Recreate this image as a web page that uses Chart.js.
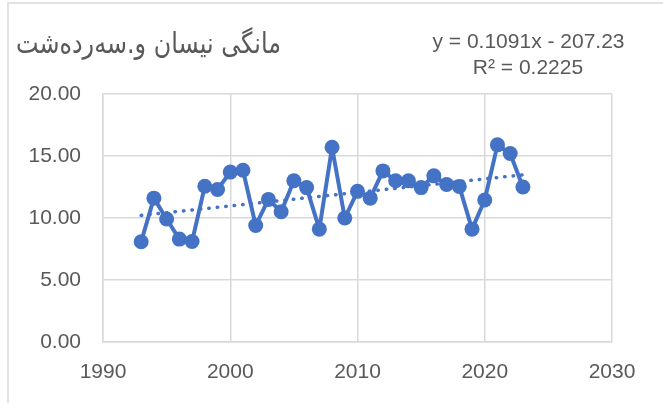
<!DOCTYPE html>
<html>
<head>
<meta charset="utf-8">
<script src="https://cdn.jsdelivr.net/npm/chart.js@4"></script>
<style>
  html, body { margin: 0; padding: 0; background: #ffffff; }
  #wrap { width: 663px; height: 403px; position: relative; }
</style>
</head>
<body>
<div id="wrap"><canvas id="c" width="663" height="403"></canvas></div>
<script>
// ---- data ----
const years = [1993,1994,1995,1996,1997,1998,1999,2000,2001,2002,2003,2004,2005,2006,2007,2008,2009,2010,2011,2012,2013,2014,2015,2016,2017,2018,2019,2020,2021,2022,2023];
const values = [8.08,11.6,9.92,8.3,8.1,12.56,12.3,13.7,13.85,9.4,11.5,10.5,13.0,12.45,9.1,15.7,10.0,12.15,11.6,13.8,13.0,13.0,12.45,13.4,12.7,12.55,9.1,11.45,15.9,15.2,12.5];
const trendYears = [1993, 2023];
const trendValues = [10.21, 13.48];
const titleText = "مانگی نیسان و.سەردەشت";
const equationLines = ["y = 0.1091x - 207.23", "R² = 0.2225"];
const xTicks = [1990, 2000, 2010, 2020, 2030];
const yTicks = [0, 5, 10, 15, 20];

const seriesPoints = years.map((y, i) => ({ x: y, y: values[i] }));
const trendPoints = trendYears.map((y, i) => ({ x: y, y: trendValues[i] }));

const TEXT = '#595959';
const GRID = '#d9d9d9';
const BLUE = '#4472C4';

const decor = {
  id: 'decor',
  beforeDraw(chart) {
    const ctx = chart.ctx;
    ctx.save();
    ctx.fillStyle = '#ffffff';
    ctx.fillRect(0, 0, chart.width, chart.height);
    ctx.strokeStyle = GRID;
    ctx.lineWidth = 1.5;
    ctx.beginPath();
    ctx.moveTo(8, 403);
    ctx.lineTo(8, 3);
    ctx.lineTo(663, 3);
    ctx.stroke();
    ctx.restore();
  },
  afterDraw(chart) {
    const ctx = chart.ctx;
    ctx.save();
    // title: sized by height, squeezed to the reference width
    ctx.fillStyle = TEXT;
    ctx.font = '29px "DejaVu Sans"';
    ctx.direction = 'rtl';
    ctx.textBaseline = 'alphabetic';
    ctx.textAlign = 'right';
    const w = ctx.measureText(titleText).width;
    const sx = 265 / w;
    ctx.save();
    ctx.translate(281, 53);
    ctx.scale(sx, 1);
    ctx.fillText(titleText, 0, 0);
    ctx.restore();
    ctx.direction = 'ltr';
    // equation
    ctx.font = '21px "Liberation Sans"';
    ctx.textAlign = 'center';
    ctx.fillText(equationLines[0], 528.5, 48);
    ctx.fillText(equationLines[1], 528, 74);
    ctx.restore();
  }
};

new Chart(document.getElementById('c'), {
  type: 'scatter',
  data: {
    datasets: [
      {
        label: 'trend',
        data: trendPoints,
        showLine: true,
        borderColor: BLUE,
        borderWidth: 3.5,
        borderDash: [0.5, 8],
        borderCapStyle: 'round',
        pointRadius: 0,
        order: 0
      },
      {
        label: 'series',
        data: seriesPoints,
        showLine: true,
        borderColor: BLUE,
        backgroundColor: BLUE,
        borderWidth: 4,
        borderJoinStyle: 'round',
        borderCapStyle: 'round',
        pointRadius: 7.5,
        pointBackgroundColor: BLUE,
        pointBorderColor: BLUE,
        pointBorderWidth: 0,
        tension: 0,
        order: 1
      }
    ]
  },
  options: {
    responsive: false,
    animation: false,
    events: [],
    layout: { padding: { left: 0, right: 51, top: 94, bottom: 0 } },
    plugins: { legend: { display: false }, tooltip: { enabled: false }, title: { display: false } },
    scales: {
      x: {
        type: 'linear',
        min: 1990, max: 2030,
        afterBuildTicks(scale) { scale.ticks = xTicks.map(v => ({ value: v })); },
        afterFit(scale) { scale.height = 61; },
        grid: { color: GRID, lineWidth: 1.5, drawTicks: false },
        border: { color: GRID, width: 1.5 },
        ticks: {
          color: TEXT,
          font: { family: '"Liberation Sans"', size: 21 },
          padding: 18,
          callback: v => String(v)
        }
      },
      y: {
        min: 0, max: 20,
        afterBuildTicks(scale) { scale.ticks = yTicks.map(v => ({ value: v })); },
        afterFit(scale) { scale.width = 103; },
        grid: { color: GRID, lineWidth: 1.5, drawTicks: false },
        border: { color: GRID, width: 1.5 },
        ticks: {
          color: TEXT,
          font: { family: '"Liberation Sans"', size: 21 },
          padding: 22,
          callback: v => Number(v).toFixed(2)
        }
      }
    }
  },
  plugins: [decor]
});
</script>
</body>
</html>
